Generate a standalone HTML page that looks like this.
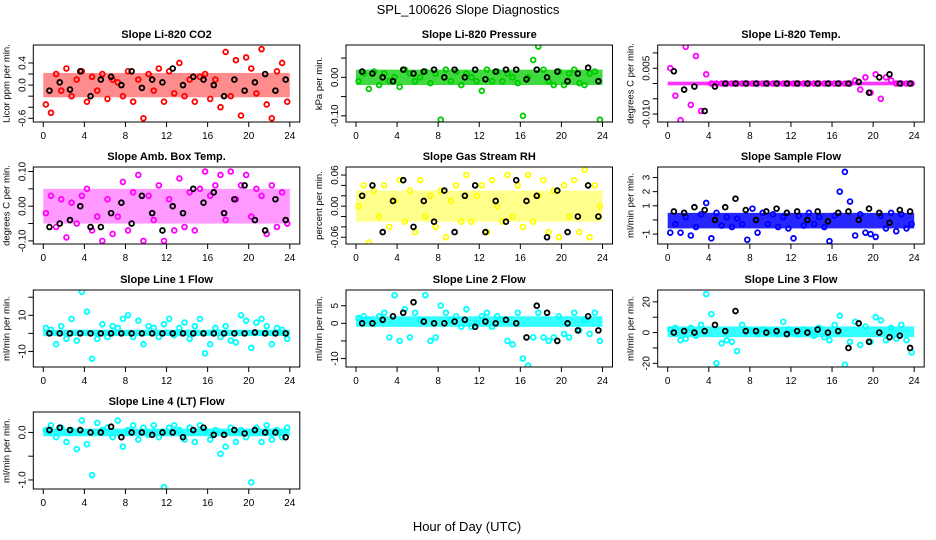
<!DOCTYPE html>
<html><head><meta charset="utf-8">
<style>
html,body{margin:0;padding:0;background:#fff;}
svg{display:block;font-family:"Liberation Sans",sans-serif;}
</style></head>
<body>
<svg id="chart" width="936" height="540" viewBox="0 0 936 540" xmlns="http://www.w3.org/2000/svg">
<rect width="936" height="540" fill="#fff"/>
<text x="468" y="14" text-anchor="middle" font-size="13">SPL_100626  Slope Diagnostics</text>
<text x="467" y="531" text-anchor="middle" font-size="13">Hour of Day (UTC)</text>
</svg>
<script>
const panelTitles=["Slope Li-820 CO2","Slope Li-820 Pressure","Slope Li-820 Temp.","Slope Amb. Box Temp.","Slope Gas Stream RH","Slope Sample Flow","Slope Line 1 Flow","Slope Line 2 Flow","Slope Line 3 Flow","Slope Line 4 (LT) Flow"];
const yLabels=["Licor ppm per min.","kPa per min.","degrees C per min.","degrees C per min.","percent per min.","ml/min per min.","ml/min per min.","ml/min per min.","ml/min per min.","ml/min per min."];
const seriesColors=["#ff0000","#00cc00","#ff00ff","#ff00ff","#ffff00","#0000ff","#00ffff","#00ffff","#00ffff","#00ffff"];
const yMin=[-0.667,-0.116,-0.0126,-0.109,-0.073,-1.7,-18.6,-12.4,-22.4,-1.19];
const yMax=[0.725,0.084,0.0126,0.113,0.0755,3.74,24,9.46,27.7,0.43];
const yTicks=[[-0.6,-0.4,-0.2,0,0.2,0.4],[-0.1,-0.05,0,0.05],[-0.01,-0.005,0,0.005,0.01],[-0.1,-0.05,0,0.05,0.1],[-0.06,-0.04,-0.02,0,0.02,0.04,0.06],[-1,0,1,2,3],[-10,0,10,20],[-10,-5,0,5],[-20,-10,0,10,20],[-1,-0.5,0]];
const yTickLabels=[["-0.6","","","0.0","","0.4"],["-0.10","","0.00",""],["-0.010","","","0.005",""],["-0.10","","0.00","","0.10"],["-0.06","","","0.00","","","0.06"],["-1","","1","2","3"],["-10","","10",""],["-10","","0","5"],["-20","","0","","20"],["-1.0","","0.0"]];
const xTicks=[0,4,8,12,16,20,24];
const bandLo=[-0.22,-0.02,-0.0006,-0.05,-0.03,-0.6,-1.5,-1,-3,-0.08];
const bandHi=[0.22,0.02,0.0006,0.05,0.03,0.5,2,2,4,0.08];
const bandOpacity=[0.45,0.75,0.8,0.4,0.45,0.85,0.85,0.8,0.8,0.85];
const co2Vals=[-0.35,-0.5,0.2,-0.1,0.3,-0.2,0.1,0.25,-0.3,0.15,-0.1,0.2,-0.25,0.1,0.05,-0.2,0.25,-0.3,0.1,-0.6,0.2,-0.1,0.3,-0.3,0.25,-0.15,0.4,-0.2,0.1,-0.3,0.15,0.2,-0.25,0.1,-0.4,0.6,-0.2,0.45,-0.55,0.5,0.3,-0.15,0.65,-0.35,-0.6,0.25,0.4,-0.3];
const pressVals=[-0.01,0.01,-0.03,0.015,-0.02,0.01,-0.01,0.0,-0.025,0.02,0.01,-0.01,0.0,0.015,-0.015,0.01,-0.11,0.02,-0.01,0.015,-0.02,0.01,0.0,-0.01,-0.035,0.02,-0.01,0.015,-0.01,0.01,0.0,-0.015,-0.1,0.0,0.045,0.08,0.02,-0.01,-0.02,0.015,-0.02,0.01,0.02,-0.015,-0.02,0.01,0.015,-0.11];
const tempVals=[0.005,-0.004,-0.012,0.012,-0.007,0.009,-0.009,0.003,0,0,0,0,0,0,0,0,0,0,0,0,0,0,0,0,0,0,0,0,0,0,0,0,0,0,0,0,0.001,-0.002,0.002,-0.003,0.003,-0.005,0.002,0.001,0,0,0,0];
const ambVals=[-0.02,0.03,-0.06,0.02,-0.09,0.01,-0.05,0.03,0.05,-0.07,-0.03,-0.1,0.02,-0.08,-0.03,0.07,-0.07,0.04,0.09,-0.1,0.03,-0.04,0.06,-0.1,0.02,-0.07,0.08,-0.06,0.04,-0.07,0.05,0.1,0.03,0.06,0.09,-0.04,0.1,0.02,0.06,0.09,-0.03,0.05,0.03,-0.08,0.06,-0.06,0.04,-0.05];
const rhVals=[0.0,0.04,-0.07,0.03,-0.02,0.04,-0.04,0.01,0.05,-0.03,0.03,-0.05,0.05,-0.02,0.02,-0.04,0.03,-0.06,0.01,0.04,-0.03,0.06,-0.03,0.02,0.04,-0.05,0.05,0.0,-0.03,0.06,-0.02,0.04,-0.04,0.06,-0.03,0.02,0.05,-0.05,0.03,-0.06,0.04,-0.02,0.05,-0.05,0.07,-0.06,0.04,0.0];
const sampleVals=[-0.9,-0.3,-0.9,0.2,-1.1,-0.5,0.4,1.2,-1.3,0.5,-0.4,0.2,-0.5,0.1,-0.3,-1.4,0.8,-0.9,0.5,-0.3,0.4,-0.5,0.2,-0.6,-1.3,0.3,-0.4,0.5,-0.3,0.2,-0.5,-1.5,0.3,2.0,3.4,1.3,-1.1,0.4,-0.9,-1.0,-1.2,0.3,-0.6,0.5,-0.8,0.4,-0.6,-0.3];
const line1Vals=[3,2,-6,4,-3,8,-4,23,12,-14,-3,5,-2,4,3,8,10,-2,7,-6,4,3,-2,5,8,-1,3,6,-3,4,8,-11,-6,3,-2,4,-4,-5,10,7,-8,6,8,4,-6,3,2,-3];
const line2Vals=[1.5,2,1,0,2,3,-4,8,-5,4,-4,3,1,8,-5,-4,5,3,1,2,-1,4,-1,0,2,3,-1,2,1,-5,-6,3,-10,-12,-4,3,-4,-5,-4,2,-3,-4,3,-2,1,-3,3,-5];
const line3Vals=[2,3,-5,-4,3,-2,5,25,12,-20,-7,-5,-6,-12,5,2,1,-1,2,1,0,-1,7,2,0,-1,2,1,-2,3,-3,-5,5,11,-21,-6,7,-8,4,-6,10,8,-5,3,-4,5,-5,-13];
const line4Vals=[0.05,0.15,-0.1,0.1,-0.2,0.05,-0.35,0.25,-0.25,-0.9,0.2,0.05,0.1,-0.1,0.25,-0.3,0.05,0.15,-0.15,0.1,-0.05,0.15,-0.1,-1.15,0.1,0.15,0.05,-0.15,0.1,-0.2,0.15,0.05,-0.15,0.05,-0.45,-0.3,0.1,-0.2,0.05,-0.1,-1.05,0.1,-0.2,0.15,-0.15,0.05,-0.1,0.1];
const co2Black=[-0.1,0.05,-0.08,0.25,-0.2,0.1,0.15,0.0,0.25,-0.05,0.1,0.05,0.3,0.0,0.15,0.1,0.0,-0.2,0.1,-0.1,0.05,0.2,-0.1,0.1];
const pressBlack=[0.015,0.01,0.0,-0.01,0.02,0.01,0.015,0.02,0.0,0.02,0.0,0.02,-0.005,0.015,0.02,0.02,-0.005,0.02,0.0,0.015,-0.01,0.01,0.025,-0.01];
const tempBlack=[0.004,-0.002,-0.001,-0.009,-0.001,0,0,0,0,0,0,0,0,0,0,0,0,0,0.0005,-0.003,0.002,0.003,0,0];
const ambBlack=[-0.06,-0.05,-0.04,0.0,-0.06,-0.06,-0.02,0.01,-0.05,0.03,-0.02,-0.07,0.0,-0.02,0.05,0.01,0.04,-0.02,0.02,0.06,-0.04,-0.07,0.02,-0.04];
const rhBlack=[0.02,0.04,-0.05,0.01,0.05,-0.04,0.01,-0.03,0.03,-0.05,0.02,0.04,-0.05,0.01,-0.03,0.05,0.01,0.02,-0.06,0.03,-0.05,-0.02,0.04,-0.02];
const sampleBlack=[0.6,0.5,0.9,0.7,0.0,0.9,1.5,0.7,0.0,0.6,0.8,0.5,0.6,0.0,0.6,-0.1,0.5,0.6,0.0,0.8,0.5,-0.2,0.7,0.6];
const line1Black=[0,0,0,0,0,0,0,0,0,0,0,0,0,0,0,0,0,0,0,0,0.5,0,0,0];
const line2Black=[0,0,1,2,3,6,0.5,0,0,0.5,1,-1,0.5,0,1,0,-4,5,3,-5,0,-2,2,-2];
const line3Black=[0,1,0,1,5,1,14,1,1,0,1,-1,1,0,2,0,1,-10,6,-6,0,-3,-2,-10];
const line4Black=[0.05,0.1,0.05,0.05,0.0,0.0,0.12,-0.1,0.0,0.0,-0.05,0.0,0.0,-0.1,0.05,0.1,-0.05,-0.05,0.05,-0.02,0.05,0.0,0.0,-0.1];
const colorSeries=[co2Vals,pressVals,tempVals,ambVals,rhVals,sampleVals,line1Vals,line2Vals,line3Vals,line4Vals];
const blackSeries=[co2Black,pressBlack,tempBlack,ambBlack,rhBlack,sampleBlack,line1Black,line2Black,line3Black,line4Black];

const NS="http://www.w3.org/2000/svg";
const svg=document.getElementById('chart');
const colLeft=[33.3,346,657.7], rowTop=[45,167,290,412], boxW=266.5, boxH=77;
function mk(tag,attrs,parent){const e=document.createElementNS(NS,tag);for(const k in attrs)e.setAttribute(k,attrs[k]);(parent||svg).appendChild(e);return e;}

panelTitles.forEach((title,p)=>{
  const L=colLeft[p%3], T=rowTop[Math.floor(p/3)];
  const g=mk('g',{});
  
  
  const xs=h=>L+10+(h/24)*(boxW-20);
  const ys=v=>T+boxH-(v-yMin[p])/(yMax[p]-yMin[p])*boxH;
  const clipId='clip'+p;
  const cp=mk('clipPath',{id:clipId},g);mk('rect',{x:L,y:T,width:boxW,height:boxH},cp);
  const t=mk('text',{x:L+boxW/2,y:T-7,'text-anchor':'middle','font-size':'11','font-weight':'bold'},g);
  t.textContent=title;
  
  
  const yl=mk('text',{x:0,y:0,'text-anchor':'middle','font-size':'9.5',transform:`translate(${L-24},${T+boxH/2}) rotate(-90)`},g);
  yl.textContent=yLabels[p];
  
  
  const band=mk('rect',{x:xs(0),y:ys(bandHi[p]),width:xs(24)-xs(0),height:ys(bandLo[p])-ys(bandHi[p]),fill:seriesColors[p],opacity:bandOpacity[p],'clip-path':`url(#${clipId})`},g);
  
  
  const pts=mk('g',{'clip-path':`url(#${clipId})`,fill:'none','stroke-width':'1.8'},g);
  
  
  const cs=colorSeries[p];
  cs.forEach((v,i)=>{const h=(i+0.5)*24/cs.length;
    const c=mk('circle',{cx:xs(h),cy:ys(v),r:2.4,stroke:seriesColors[p]},pts);
    
    });
  const bs=blackSeries[p];
  bs.forEach((v,i)=>{const h=(i+0.6)*24/bs.length;
    const c=mk('circle',{cx:xs(h),cy:ys(v),r:2.4,stroke:'#000'},pts);
    
    });
  const box=mk('rect',{x:L,y:T,width:boxW,height:boxH,fill:'none',stroke:'#000','stroke-width':'1'},g);
  
  
  mk('line',{x1:xs(0),x2:xs(24),y1:T+boxH,y2:T+boxH,stroke:'#000'},g);
  xTicks.forEach(h=>{mk('line',{x1:xs(h),x2:xs(h),y1:T+boxH,y2:T+boxH+5,stroke:'#000'},g);
    const tx=mk('text',{x:xs(h),y:T+boxH+17,'text-anchor':'middle','font-size':'10'},g);
    tx.textContent=h;
    
    });
  yTicks[p].forEach((v,i)=>{const y=ys(v);
    mk('line',{x1:L,x2:L-5,y1:y,y2:y,stroke:'#000'},g);
    if(yTickLabels[p][i]){const ty=mk('text',{x:0,y:0,'text-anchor':'middle','font-size':'10',transform:`translate(${L-8},${y}) rotate(-90)`},g);
      ty.textContent=yTickLabels[p][i];
      
      }});
});
</script>
</body></html>
